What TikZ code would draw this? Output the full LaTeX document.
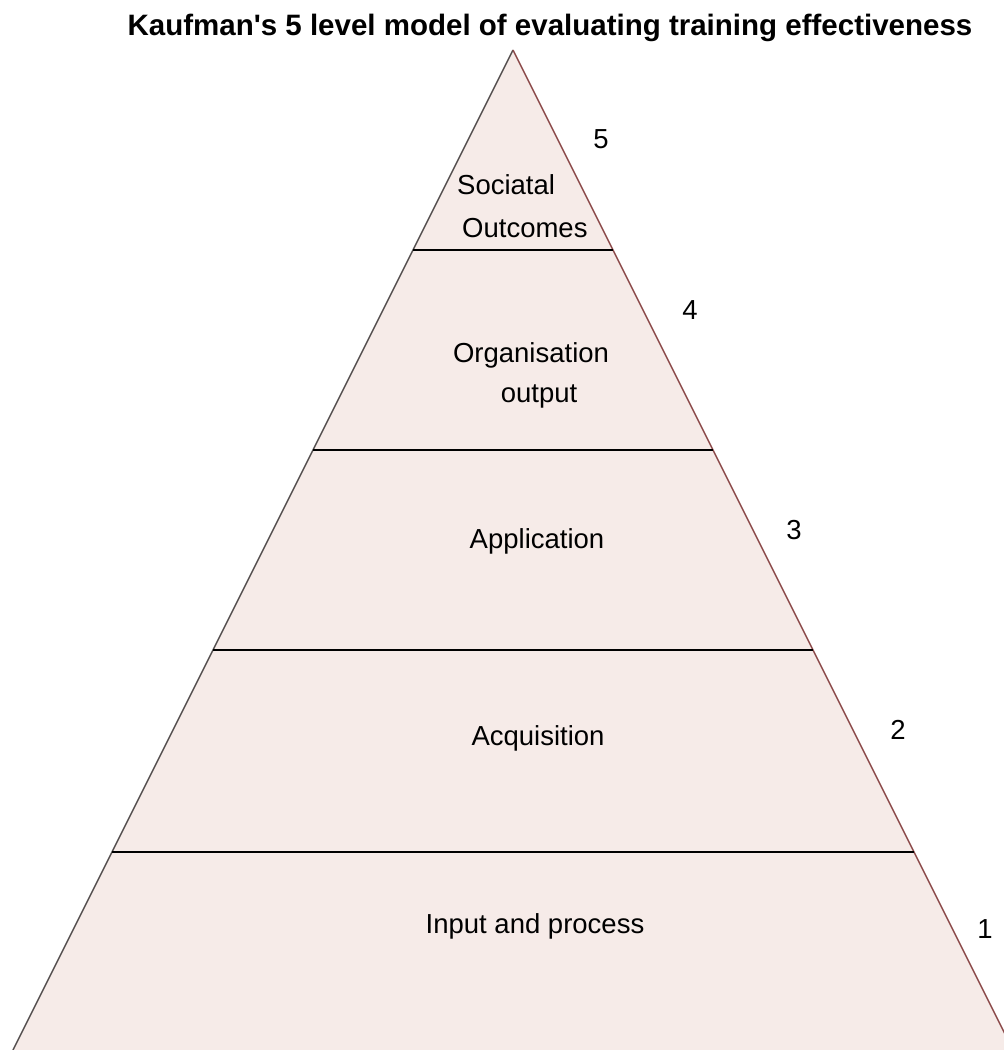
\documentclass[tikz,border=0pt]{standalone}
\usepackage{fontspec}
\setmainfont{Liberation Sans}[Ligatures=TeXOff]
\usetikzlibrary{positioning}
\definecolor{pyrfill}{RGB}{246,235,232}
\definecolor{pyrleft}{RGB}{85,80,80}
\definecolor{pyrright}{RGB}{140,75,75}
\tikzset{
  title/.style={anchor=base, inner sep=0pt, font=\fontsize{29.5}{34}\selectfont\bfseries},
  tier/.style={anchor=base, inner sep=0pt, font=\fontsize{27.5}{33}\selectfont},
  levelnum/.style={anchor=base, inner sep=0pt, font=\fontsize{27.5}{33}\selectfont},
  tierline/.style={draw=black, line width=1.8pt}
}

\begin{document}
\begin{tikzpicture}[x=1pt, y=-1pt]
\useasboundingbox (0,0) rectangle (1004,1050);
\clip (0,0) rectangle (1004,1050);
% pyramid
\coordinate (apex) at (513,50);
\coordinate (baseL) at (13,1050);
\coordinate (baseR) at (1013,1050);
\fill[pyrfill] (apex) -- (baseL) -- (baseR) -- cycle;
\draw[pyrleft, line width=1.4pt] (apex) -- (baseL);
\draw[pyrright, line width=1.4pt] (apex) -- (baseR);
\foreach \y in {250,450,650,852}
  \draw[tierline] ({513-(\y-50)/2},\y) -- ({513+(\y-50)/2},\y);
% title
\node[title] (head) at (550,35) {Kaufman's 5 level model of evaluating training effectiveness};
% tiers
\node[tier, anchor=base west] (soc1) at (457,194) {Sociatal};
\node[tier, anchor=base west] (soc2) at (462,237) {Outcomes};
\node[tier] (org1) at (531,362) {Organisation};
\node[tier] (org2) at (539,402) {output};
\node[tier] (app) at (537,548) {Application};
\node[tier] (acq) at (538,745) {Acquisition};
\node[tier] (inp) at (535,933) {Input and process};
% level numbers
\node[levelnum] (n5) at (601,148) {5};
\node[levelnum] (n4) at (690,319) {4};
\node[levelnum] (n3) at (794,539) {3};
\node[levelnum] (n2) at (898,739) {2};
\node[levelnum] (n1) at (985,938) {1};
\end{tikzpicture}
\end{document}
